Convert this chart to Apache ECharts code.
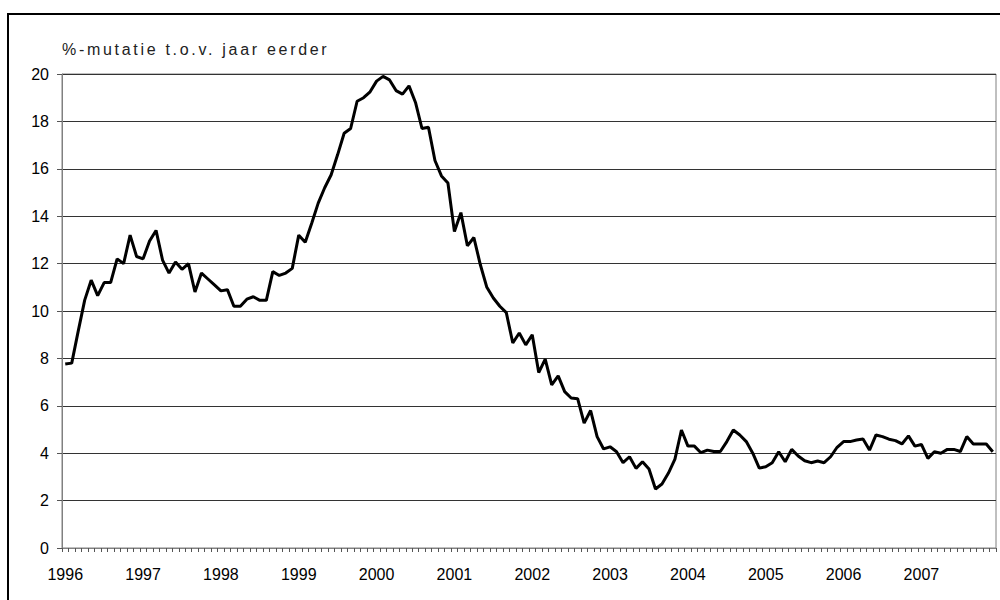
<!DOCTYPE html>
<html>
<head>
<meta charset="utf-8">
<script src="https://cdn.jsdelivr.net/npm/echarts@6/dist/echarts.min.js"></script>
<style>html,body{margin:0;padding:0;background:#fff}#c{width:1000px;height:600px}</style>
</head>
<body>
<div id="c"></div>
<script>
var years = ['1996','1997','1998','1999','2000','2001','2002','2003','2004','2005','2006','2007'];
var v1996 = [7.76, 7.8, 9.15, 10.46, 11.3, 10.65, 11.2, 11.2, 12.2, 12.0, 13.2, 12.3];
var v1997 = [12.2, 12.95, 13.4, 12.15, 11.6, 12.07, 11.76, 12.0, 10.8, 11.6, 11.35, 11.1];
var v1998 = [10.85, 10.9, 10.2, 10.2, 10.5, 10.6, 10.45, 10.45, 11.66, 11.5, 11.6, 11.8];
var v1999 = [13.2, 12.9, 13.7, 14.55, 15.2, 15.75, 16.6, 17.5, 17.7, 18.85, 19.0, 19.25];
var v2000 = [19.7, 19.9, 19.75, 19.3, 19.15, 19.5, 18.8, 17.7, 17.75, 16.35, 15.7, 15.4];
var v2001 = [13.35, 14.15, 12.75, 13.1, 11.95, 11.0, 10.55, 10.2, 9.93, 8.65, 9.07, 8.57];
var v2002 = [9.0, 7.4, 7.97, 6.88, 7.26, 6.6, 6.33, 6.3, 5.27, 5.8, 4.7, 4.18];
var v2003 = [4.27, 4.06, 3.6, 3.85, 3.36, 3.64, 3.33, 2.49, 2.7, 3.16, 3.75, 4.98];
var v2004 = [4.3, 4.3, 4.02, 4.13, 4.07, 4.07, 4.49, 4.98, 4.77, 4.49, 4.0, 3.37];
var v2005 = [3.43, 3.6, 4.06, 3.64, 4.16, 3.88, 3.68, 3.6, 3.67, 3.6, 3.85, 4.25];
var v2006 = [4.49, 4.49, 4.56, 4.6, 4.13, 4.77, 4.7, 4.59, 4.53, 4.39, 4.73, 4.3];
var v2007 = [4.37, 3.78, 4.06, 4.0, 4.16, 4.16, 4.07, 4.7, 4.39, 4.39, 4.39, 4.06];
var yTicks = [0, 2, 4, 6, 8, 10, 12, 14, 16, 18, 20];
var yTitle = '%-mutatie t.o.v. jaar eerder';

var perYear = [v1996, v1997, v1998, v1999, v2000, v2001, v2002, v2003, v2004, v2005, v2006, v2007];
var categories = [];
var values = [];
years.forEach(function (y, i) {
  perYear[i].forEach(function (v, m) {
    categories.push(y + '-' + (m + 1));
    values.push(v);
  });
});

var FONT = 'Liberation Sans, Arial, sans-serif';
var chart = echarts.init(document.getElementById('c'), null, {renderer: 'svg'});
chart.setOption({
  animation: false,
  backgroundColor: '#fff',
  grid: {left: 62, right: 4, top: 74, bottom: 52, show: true, borderColor: '#808080', borderWidth: 1},
  graphic: [
    {type: 'rect', shape: {x: 8, y: 14, width: 1000, height: 600}, style: {fill: 'none', stroke: '#000', lineWidth: 2}, silent: true},
    {type: 'text', id: 'ytitle', left: 62, top: 41, style: {text: yTitle, fontFamily: FONT, fontSize: 16, fill: '#222'}}
  ],
  xAxis: {
    type: 'category',
    data: categories,
    boundaryGap: true,
    axisLine: {lineStyle: {color: '#808080', width: 1}},
    axisTick: {show: true, interval: 0, length: 4, lineStyle: {color: '#555'}},
    axisLabel: {
      interval: 11,
      margin: 18,
      color: '#000',
      fontSize: 16,
      fontFamily: FONT,
      formatter: function (v) { return v.split('-')[0]; }
    },
    splitLine: {show: false}
  },
  yAxis: {
    type: 'value',
    min: yTicks[0],
    max: yTicks[yTicks.length - 1],
    interval: yTicks[1] - yTicks[0],
    axisLine: {show: true, lineStyle: {color: '#808080', width: 1}},
    axisTick: {show: true, length: 5, lineStyle: {color: '#555'}},
    axisLabel: {margin: 13, color: '#000', fontSize: 16, fontFamily: FONT},
    splitLine: {show: true, lineStyle: {color: '#333', width: 1}}
  },
  series: [{
    type: 'line',
    data: values,
    symbol: 'none',
    lineStyle: {color: '#000', width: 3},
    z: 5
  }]
});

// widen the letter spacing of the axis title, as in the original
function spaceTitle() {
  var texts = document.querySelectorAll('#c svg text');
  for (var i = 0; i < texts.length; i++) {
    if (texts[i].textContent.indexOf('%-mutatie') === 0) {
      texts[i].setAttribute('letter-spacing', '2.7');
      texts[i].style.letterSpacing = '2.7px';
    }
  }
}
spaceTitle();
chart.on('finished', spaceTitle);
</script>
</body>
</html>
